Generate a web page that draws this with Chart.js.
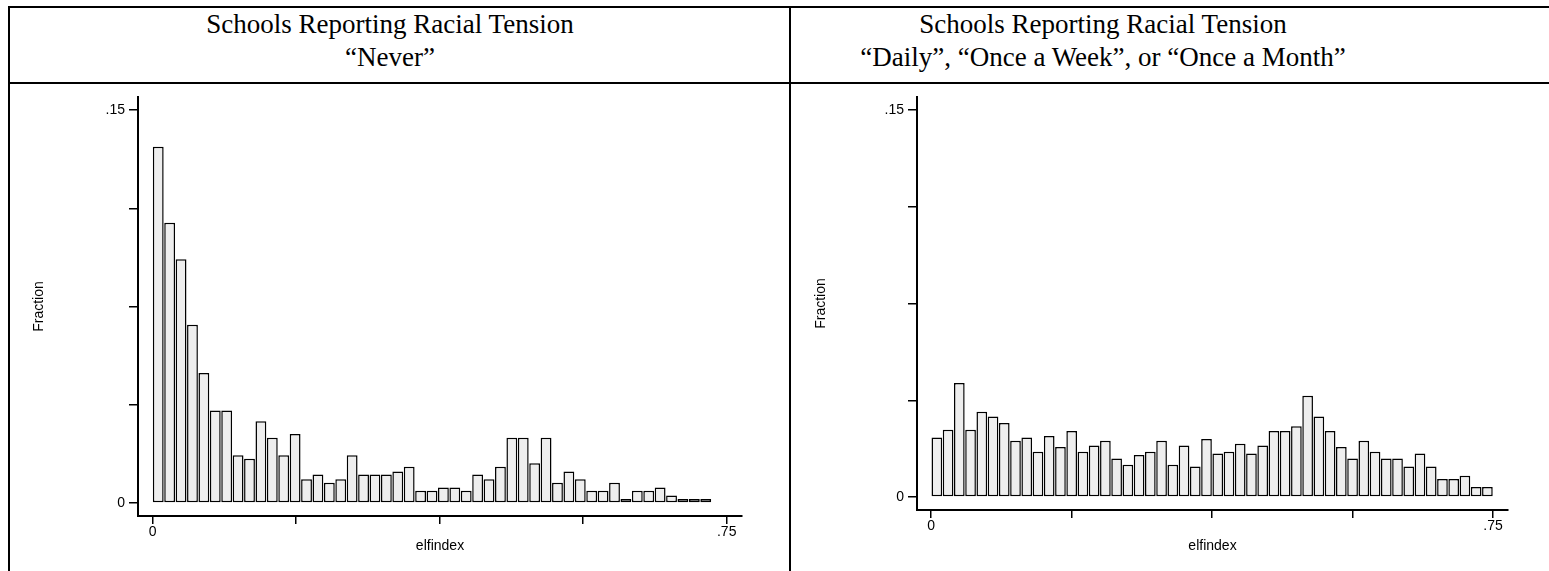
<!DOCTYPE html>
<html>
<head>
<meta charset="utf-8">
<script src="https://cdn.jsdelivr.net/npm/chart.js@4.4.0/dist/chart.umd.min.js"></script>
<style>
body { margin: 0; background: #fff; width: 1549px; height: 571px; overflow: hidden; position: relative; }
.line { position: absolute; background: #000; }
.title { position: absolute; font-family: "Liberation Serif", "Times New Roman", serif; font-size: 27px; line-height: 33px;
  text-align: center; color: #000; white-space: nowrap; transform: translateX(-50%); }
canvas { position: absolute; }
</style>
</head>
<body>
<div class="line" style="left:8px;top:6px;width:1541px;height:2px"></div>
<div class="line" style="left:8px;top:82px;width:1541px;height:2px"></div>
<div class="line" style="left:8px;top:6px;width:2px;height:565px"></div>
<div class="line" style="left:789px;top:6px;width:2px;height:565px"></div>
<div class="title" style="left:390px;top:8px">Schools Reporting Racial Tension<br>“Never”</div>
<div class="title" style="left:1103px;top:8px">Schools Reporting Racial Tension<br>“Daily”, “Once a Week”, or “Once a Month”</div>
<canvas id="never" width="779" height="487" style="left:10px;top:84px"></canvas>
<canvas id="often" width="758" height="487" style="left:791px;top:84px"></canvas>
<script>
// tick positions and labels (only the ends get a label)
const xTickValues = [0, 0.1875, 0.375, 0.5625, 0.75];
const xTickLabels = ['0', '', '', '', '.75'];
const yTickValues = [0, 0.0375, 0.075, 0.1125, 0.15];
const yTickLabels = ['0', '', '', '', '.15'];

// "Never" histogram: 49 bins
const neverBinWidth = 0.0149;
const neverFraction = [
  0.136, 0.107, 0.093, 0.068, 0.0496, 0.0353, 0.0353, 0.0182, 0.0169, 0.0312,
  0.0249, 0.0182, 0.0263, 0.009, 0.0108, 0.0077, 0.009, 0.0182, 0.0108, 0.0108,
  0.0108, 0.012, 0.0138, 0.0046, 0.0046, 0.0059, 0.0059, 0.0046, 0.0108, 0.009,
  0.0138, 0.0249, 0.0249, 0.0151, 0.0249, 0.0077, 0.012, 0.009, 0.0046, 0.0046,
  0.0077, 0.0015, 0.0046, 0.0046, 0.0059, 0.0028, 0.0015, 0.0015, 0.0015
];

// "Daily / Once a Week / Once a Month" histogram: 50 bins
const oftenBinWidth = 0.015;
const oftenFraction = [
  0.0231, 0.0261, 0.0442, 0.0261, 0.0331, 0.0312, 0.0287, 0.0218, 0.0231, 0.0176,
  0.0237, 0.0194, 0.0256, 0.0176, 0.02, 0.0218, 0.015, 0.0125, 0.0163, 0.0176,
  0.0218, 0.0125, 0.02, 0.0119, 0.0225, 0.0169, 0.0176, 0.0207, 0.0169, 0.02,
  0.0256, 0.0256, 0.0274, 0.0393, 0.0312, 0.0256, 0.0194, 0.015, 0.0218, 0.0176,
  0.015, 0.015, 0.0119, 0.0169, 0.0119, 0.007, 0.007, 0.0083, 0.0039, 0.0039
];

const sans = 'Liberation Sans, Arial, sans-serif';

function histogram(id, values, binWidth, lay) {
  let points = values.map(function(v, i) {
    return { x: (i + 0.5) * binWidth, y: v };
  });
  new Chart(document.getElementById(id), {
    type: 'bar',
    data: {
      datasets: [{
        data: points,
        backgroundColor: '#eeeeee',
        borderColor: '#000',
        borderWidth: 1.5,
        borderSkipped: false,
        categoryPercentage: 0.95,
        barPercentage: 1
      }]
    },
    options: {
      responsive: false,
      animation: false,
      devicePixelRatio: 1,
      layout: { padding: { left: 0, top: 13, right: lay.right, bottom: lay.bottom } },
      plugins: { legend: { display: false }, tooltip: { enabled: false } },
      scales: {
        x: {
          type: 'linear',
          min: -0.019,
          max: 0.77,
          offset: false,
          afterBuildTicks: function(s) { s.ticks = xTickValues.map(v => ({ value: v })); },
          afterFit: function(s) { s.height = 50; },
          ticks: {
            autoSkip: false, maxRotation: 0, padding: 0,
            color: '#000', font: { family: sans, size: 14 },
            callback: function(v, i) { return xTickLabels[i]; }
          },
          grid: { offset: false, drawOnChartArea: false, drawTicks: true, tickLength: 8, color: '#000', lineWidth: 1.5 },
          border: { display: true, color: '#000', width: 2 },
          title: { display: true, text: 'elfindex', color: '#000', font: { family: sans, size: 14 },
            padding: { top: 0, bottom: lay.xTitle } }
        },
        y: {
          type: 'linear',
          min: -0.005,
          max: 0.155,
          afterBuildTicks: function(s) { s.ticks = yTickValues.map(v => ({ value: v })); },
          afterFit: function(s) { s.width = lay.yWidth; },
          ticks: {
            autoSkip: false, padding: 4,
            color: '#000', font: { family: sans, size: 14 },
            callback: function(v, i) { return yTickLabels[i]; }
          },
          grid: { drawOnChartArea: false, drawTicks: true, tickLength: 9, color: '#000', lineWidth: 1.5 },
          border: { display: true, color: '#000', width: 2 },
          title: { display: true, text: 'Fraction', color: '#000', font: { family: sans, size: 14 },
            padding: { top: lay.yTitle, bottom: 0 } }
        }
      }
    }
  });
}

histogram('never', neverFraction, neverBinWidth, { right: 47, bottom: 5, xTitle: 11, yWidth: 128, yTitle: 21 });
histogram('often', oftenFraction, oftenBinWidth, { right: 41, bottom: 11, xTitle: 5, yWidth: 126, yTitle: 22 });
</script>
</body>
</html>
